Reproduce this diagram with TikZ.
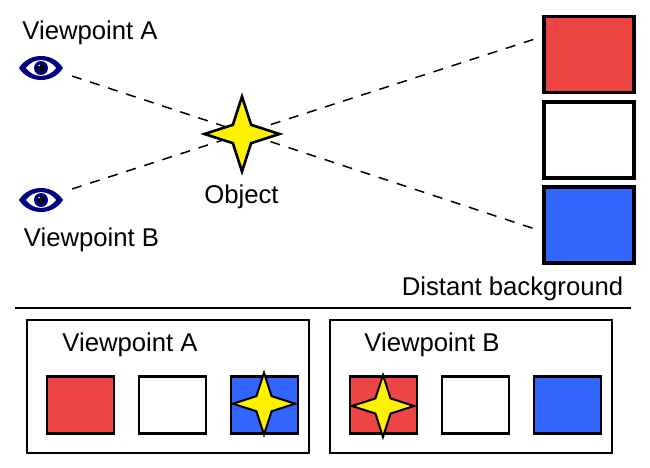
\documentclass[tikz,border=0pt]{standalone}
\usepackage{fontspec}
\setmainfont{Liberation Sans}
\usetikzlibrary{shapes.geometric}
\definecolor{swred}{HTML}{EE4444}
\definecolor{swblue}{HTML}{3366FF}
\definecolor{eyeblue}{HTML}{000080}
\tikzset{
  x=1pt,y=-1pt,
  label text/.style={font=\fontsize{25.7}{30}\selectfont,inner sep=0pt,text=black,anchor=center},
  big sq/.style={draw=black,line width=3.6pt,minimum width=90pt,minimum height=76pt,inner sep=0pt,outer sep=0pt},
  small sq/.style={draw=black,line width=2.4pt,minimum width=67.5pt,minimum height=57pt,inner sep=0pt,outer sep=0pt},
  panel/.style={draw=black,line width=1.5pt,minimum width=282pt,minimum height=133pt,inner sep=0pt,outer sep=0pt},
  big star/.style={star,star points=4,star point ratio=2.9,draw=black,fill=yellow,line width=2.6pt,minimum size=75pt,inner sep=0pt,outer sep=0pt},
  small star/.style={star,star points=4,star point ratio=2.9,draw=black,fill=yellow,line width=2pt,minimum size=62pt,inner sep=0pt,outer sep=0pt},
  sight/.style={dashed,dash pattern=on 10pt off 9pt,line width=1.5pt,black},
  sep line/.style={line width=1.6pt,black},
  eye/.pic={
    \fill[eyeblue] (-22,0) .. controls (-12,-16) and (12,-16) .. (22,0) .. controls (12,16) and (-12,16) .. (-22,0) -- cycle;
    \fill[white] (-15,0) .. controls (-7,-10.5) and (7,-10.5) .. (15,0) .. controls (7,10.5) and (-7,10.5) .. (-15,0) -- cycle;
    \fill[eyeblue] (0,0) circle (7);
    \fill[black] (0,0) circle (3.6);
    \fill[white] (-1.8,-2.4) circle (0.9);
  }
}
\begin{document}
\begin{tikzpicture}
\useasboundingbox (0,0) rectangle (650,468);
\fill[white] (0,0) rectangle (650,468);
% coordinates for sight lines
\coordinate (gazeA) at (72,76);
\coordinate (gazeB) at (72,189);
\coordinate (endA) at (541,231);
\coordinate (endB) at (541,37);
\draw[sight] (gazeA) -- (endA);
\draw[sight] (gazeB) -- (endB);
% eyes
\node[minimum width=44pt,minimum height=24pt,inner sep=0pt] (eyeA) at (41,68) {};
\node[minimum width=44pt,minimum height=24pt,inner sep=0pt] (eyeB) at (41,200) {};
\pic at (eyeA) {eye};
\pic at (eyeB) {eye};
% labels
\node[label text] (lblA) at (90,33) {Viewpoint A};
\node[label text] (lblB) at (91.5,240) {Viewpoint B};
\node[label text] (lblO) at (241.5,196.5) {Object};
\node[label text] (lblD) at (512.5,288.5) {Distant background};
% star
\node[big star] (obj) at (242,134) {};
% background squares
\node[big sq,fill=swred] (bgred) at (589,54.5) {};
\node[big sq,fill=white] (bgwhite) at (589,140) {};
\node[big sq,fill=swblue] (bgblue) at (589,225) {};
% separator
\coordinate (sepL) at (15,308);
\coordinate (sepR) at (631,308);
\draw[sep line] (sepL) -- (sepR);
% panels
\node[panel] (panA) at (168,386.5) {};
\node[panel] (panB) at (471,386.5) {};
\node[label text] (titleA) at (130,344.5) {Viewpoint A};
\node[label text] (titleB) at (432,344.5) {Viewpoint B};
\node[small sq,fill=swred] (aR) at (80.5,405) {};
\node[small sq,fill=white] (aW) at (172.5,405) {};
\node[small sq,fill=swblue] (aB) at (264.5,405) {};
\node[small sq,fill=swred] (bR) at (383.5,405) {};
\node[small sq,fill=white] (bW) at (475.5,405) {};
\node[small sq,fill=swblue] (bB) at (567.5,405) {};
\node[small star] (starA) at (264,403.7) {};
\node[small star] (starB) at (383,406) {};
\end{tikzpicture}
\end{document}
